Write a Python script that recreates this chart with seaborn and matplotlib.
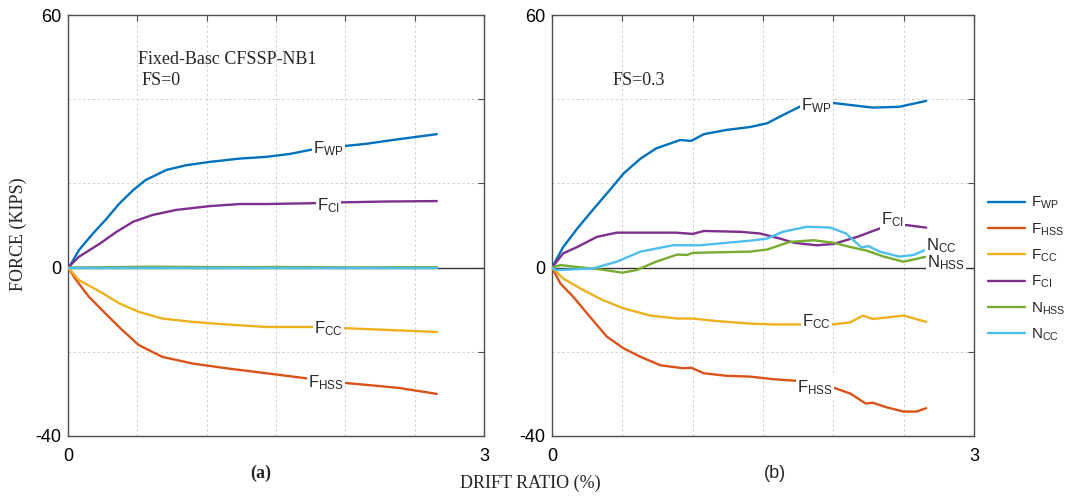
import numpy as np
import pandas as pd
import matplotlib
matplotlib.use("Agg")
import matplotlib.pyplot as plt
from matplotlib.lines import Line2D
import seaborn as sns

# ---- series names and colours ----
series = ["F_WP", "F_HSS", "F_CC", "F_CI", "N_HSS", "N_CC"]
series_tex = {
    "F_WP": r"$\mathrm{F}_{\mathrm{WP}}$",
    "F_HSS": r"$\mathrm{F}_{\mathrm{HSS}}$",
    "F_CC": r"$\mathrm{F}_{\mathrm{CC}}$",
    "F_CI": r"$\mathrm{F}_{\mathrm{CI}}$",
    "N_HSS": r"$\mathrm{N}_{\mathrm{HSS}}$",
    "N_CC": r"$\mathrm{N}_{\mathrm{CC}}$",
}
colors = ["#0072BD", "#D95319", "#EDB120", "#7E2F8E", "#77AC30", "#4DBEEE"]

# ---- (a) FS = 0 ----
a_wp_x = [0, 0.01, 0.08, 0.18, 0.27, 0.37, 0.47, 0.56, 0.71, 0.85, 1.02, 1.24, 1.43, 1.6, 1.77, 2.0, 2.15, 2.34, 2.5, 2.66]
a_wp_y = [0, 0.2, 4.2, 8.1, 11.3, 15.2, 18.4, 20.8, 23.2, 24.3, 25.1, 25.9, 26.3, 27.0, 28.1, 28.9, 29.4, 30.3, 31.0, 31.7]
a_hss_x = [0, 0.06, 0.15, 0.27, 0.39, 0.51, 0.68, 0.9, 1.14, 1.43, 1.72, 2.0, 2.2, 2.39, 2.66]
a_hss_y = [0, -3.0, -6.9, -10.9, -14.8, -18.4, -21.2, -22.8, -23.9, -25.1, -26.3, -27.4, -28.0, -28.6, -30.0]
a_cc_x = [0, 0.08, 0.23, 0.37, 0.51, 0.68, 0.9, 1.14, 1.43, 1.77, 2.0, 2.3, 2.66]
a_cc_y = [0, -3.0, -5.7, -8.5, -10.5, -12.1, -12.9, -13.5, -14.1, -14.1, -14.4, -14.8, -15.3]
a_ci_x = [0, 0.08, 0.23, 0.35, 0.47, 0.61, 0.78, 1.02, 1.24, 1.43, 1.77, 1.98, 2.3, 2.66]
a_ci_y = [0, 2.6, 5.7, 8.5, 10.9, 12.5, 13.7, 14.6, 15.1, 15.1, 15.3, 15.5, 15.7, 15.8]
a_nhss_x = [0, 0.3, 0.6, 0.9, 1.2, 1.5, 1.8, 2.1, 2.4, 2.66]
a_nhss_y = [0, 0.1, 0.2, 0.15, 0.1, 0.15, 0.1, 0.05, 0.1, 0.1]
a_ncc_x = [0, 0.5, 1.0, 1.5, 2.0, 2.66]
a_ncc_y = [0, 0.0, 0.0, 0.0, 0.0, 0.0]

# ---- (b) FS = 0.3 ----
b_wp_x = [0, 0.08, 0.18, 0.29, 0.41, 0.51, 0.63, 0.74, 0.91, 0.99, 1.08, 1.24, 1.41, 1.53, 1.64, 1.76, 1.88, 2.0, 2.28, 2.47, 2.66]
b_wp_y = [0, 4.9, 9.3, 13.7, 18.4, 22.4, 25.9, 28.3, 30.3, 30.1, 31.7, 32.7, 33.4, 34.3, 36.2, 38.2, 39.2, 39.1, 38.0, 38.2, 39.6]
b_hss_x = [0, 0.06, 0.15, 0.27, 0.39, 0.51, 0.63, 0.77, 0.93, 0.99, 1.08, 1.24, 1.41, 1.57, 1.74, 2.0, 2.12, 2.23, 2.28, 2.38, 2.50, 2.59, 2.66]
b_hss_y = [0, -3.8, -6.9, -11.7, -16.4, -19.2, -21.2, -23.2, -23.9, -23.8, -25.1, -25.7, -25.9, -26.5, -26.9, -28.5, -29.9, -32.3, -32.1, -33.2, -34.2, -34.2, -33.4]
b_cc_x = [0, 0.08, 0.22, 0.36, 0.51, 0.70, 0.89, 1.0, 1.17, 1.41, 1.57, 1.78, 2.0, 2.12, 2.21, 2.28, 2.50, 2.66]
b_cc_y = [0, -2.6, -5.3, -7.7, -9.7, -11.4, -12.1, -12.1, -12.7, -13.3, -13.5, -13.5, -13.5, -13.0, -11.4, -12.2, -11.4, -12.9]
b_ci_x = [0, 0.08, 0.18, 0.32, 0.46, 0.88, 1.0, 1.08, 1.34, 1.48, 1.62, 1.72, 1.88, 2.0, 2.17, 2.33, 2.52, 2.66]
b_ci_y = [0, 3.4, 4.9, 7.3, 8.3, 8.3, 8.0, 8.7, 8.5, 8.1, 6.9, 5.9, 5.3, 5.6, 7.3, 9.3, 10.1, 9.5]
b_nhss_x = [0, 0.06, 0.22, 0.34, 0.50, 0.60, 0.74, 0.89, 0.96, 1.0, 1.41, 1.53, 1.69, 1.86, 2.0, 2.12, 2.24, 2.36, 2.50, 2.66]
b_nhss_y = [0, 0.6, 0.0, -0.4, -1.2, -0.6, 1.4, 3.1, 3.0, 3.5, 3.8, 4.3, 6.1, 6.5, 5.9, 4.9, 4.0, 2.6, 1.4, 2.6]
b_ncc_x = [0, 0.03, 0.29, 0.46, 0.63, 0.86, 1.05, 1.41, 1.53, 1.64, 1.81, 1.98, 2.09, 2.17, 2.20, 2.25, 2.33, 2.47, 2.57, 2.66]
b_ncc_y = [0, -0.6, -0.2, 1.4, 3.8, 5.3, 5.3, 6.4, 6.9, 8.5, 9.7, 9.5, 8.1, 5.7, 4.8, 5.1, 3.8, 2.6, 3.0, 4.3]

# ---- axis ticks ----
x_ticks = [0, 0.5, 1.0, 1.5, 2.0, 2.5, 3.0]
x_ticklabels = ["0", "", "", "", "", "", "3"]
y_ticks = [-40, -20, 0, 20, 40, 60]
y_ticklabels = ["-40", "", "0", "", "", "60"]

# ---- inline curve labels (position in data units) ----
a_labels = {"F_WP": (1.88, 28.2), "F_CI": (1.88, 14.8), "F_CC": (1.88, -14.4), "F_HSS": (1.86, -27.4)}
b_labels = {"F_WP": (1.88, 38.4), "F_CI": (2.42, 11.3), "N_CC": (2.77, 5.3),
            "N_HSS": (2.80, 1.1), "F_CC": (1.88, -12.9), "F_HSS": (1.87, -28.4)}


def long_frame(pairs):
    rows = []
    for name, (xs, ys) in pairs.items():
        for xv, yv in zip(xs, ys):
            rows.append({"series": name, "drift": xv, "force": yv})
    return pd.DataFrame(rows)


df_a = long_frame({
    "F_WP": (a_wp_x, a_wp_y), "F_HSS": (a_hss_x, a_hss_y), "F_CC": (a_cc_x, a_cc_y),
    "F_CI": (a_ci_x, a_ci_y), "N_HSS": (a_nhss_x, a_nhss_y), "N_CC": (a_ncc_x, a_ncc_y),
})
df_b = long_frame({
    "F_WP": (b_wp_x, b_wp_y), "F_HSS": (b_hss_x, b_hss_y), "F_CC": (b_cc_x, b_cc_y),
    "F_CI": (b_ci_x, b_ci_y), "N_HSS": (b_nhss_x, b_nhss_y), "N_CC": (b_ncc_x, b_ncc_y),
})

sns.set_style("white")
plt.rcParams["font.family"] = ["Liberation Sans", "DejaVu Sans"]
plt.rcParams["mathtext.fontset"] = "custom"
plt.rcParams["mathtext.rm"] = "Liberation Sans"
plt.rcParams["mathtext.it"] = "Liberation Sans:italic"
plt.rcParams["mathtext.bf"] = "Liberation Sans:bold"

W, H = 1065, 496
fig = plt.figure(figsize=(W / 100, H / 100), dpi=100)
ax_a = fig.add_axes([68 / W, 1 - 436 / H, 416 / W, 421 / H])
ax_b = fig.add_axes([552 / W, 1 - 436 / H, 422 / W, 421 / H])

palette = dict(zip(series, colors))
spine_col = "#4d4d4d"

for ax, df, labels in ((ax_a, df_a, a_labels), (ax_b, df_b, b_labels)):
    ax.axhline(0, color="#333333", lw=1.0, zorder=1)
    sns.lineplot(data=df, x="drift", y="force", hue="series", hue_order=series,
                 palette=palette, estimator=None, legend=False, ax=ax,
                 linewidth=1.7, zorder=3)
    ax.set_xlim(0, 3)
    ax.set_ylim(-40, 60)
    ax.set_xticks(x_ticks)
    ax.set_xticklabels(x_ticklabels)
    ax.set_yticks(y_ticks)
    ax.set_yticklabels(y_ticklabels)
    ax.set_xlabel("")
    ax.set_ylabel("")
    ax.grid(True, color="#d0d0d0", linestyle=(0, (2.5, 2.5)), linewidth=0.7, zorder=0)
    ax.set_axisbelow(True)
    ax.tick_params(direction="in", length=4.5, width=0.8, color=spine_col,
                   top=True, right=True, labelsize=13, labelcolor="black")
    ax.tick_params(axis="x", pad=8.5)
    ax.tick_params(axis="y", pad=5)
    for s in ax.spines.values():
        s.set_color(spine_col)
        s.set_linewidth(1.0)
    for name, (lx, ly) in labels.items():
        ax.text(lx, ly, series_tex[name], ha="center", va="center", fontsize=12,
                zorder=6, clip_on=False,
                bbox=dict(facecolor="white", edgecolor="none", pad=1.0))

serif = ["Liberation Serif", "DejaVu Serif"]
ax_a.text(0.505, 49.5, "Fixed-Basc CFSSP-NB1", family=serif, fontsize=13, va="center", ha="left")
ax_a.text(0.53, 44.5, "FS=0", family=serif, fontsize=13, va="center", ha="left")
ax_b.text(0.43, 44.5, "FS=0.3", family=serif, fontsize=13, va="center", ha="left")

fig.text(261 / W, 1 - 473 / H, "(a)", family=serif, fontweight="bold", fontsize=13, ha="center", va="center")
fig.text(775 / W, 1 - 473 / H, "(b)", fontsize=13, ha="center", va="center")
fig.text(530 / W, 1 - 483 / H, "DRIFT RATIO (%)", family=serif, fontsize=13, ha="center", va="center")
fig.text(18 / W, 1 - 234 / H, "FORCE (KIPS)", family=serif, fontsize=13, ha="center", va="center", rotation=90)

handles = [Line2D([0], [0], color=c, lw=1.7) for c in colors]
fig.legend(handles, [series_tex[s] for s in series], loc="upper left",
           bbox_to_anchor=(988 / W, 1 - 195 / H), frameon=False, fontsize=11,
           handlelength=2.4, handletextpad=0.4, labelspacing=0.65, borderpad=0, borderaxespad=0)

fig.savefig("out.png", dpi=100)
